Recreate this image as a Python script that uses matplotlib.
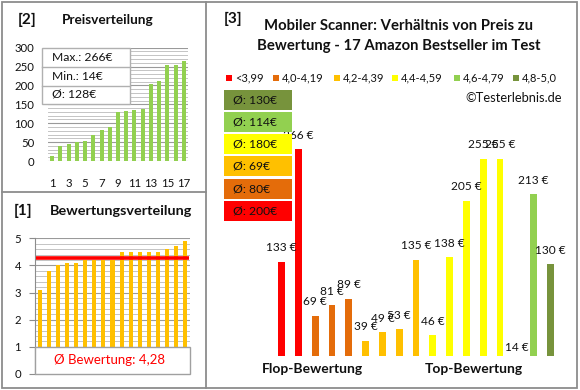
import matplotlib
matplotlib.use("Agg")
import matplotlib.pyplot as plt
from matplotlib.patches import Rectangle
import matplotlib.transforms as mtrans

plt.rcParams['font.family'] = ['Lato', 'DejaVu Sans']

# ---------------- data ----------------
prices_sorted = [14, 39, 46, 49, 53, 69, 81, 89, 130, 133, 135, 138, 205, 213, 255, 255, 266]
ratings_sorted = [3.1, 3.8, 4.0, 4.1, 4.1, 4.2, 4.2, 4.2, 4.2, 4.5, 4.5, 4.5, 4.5, 4.5, 4.6, 4.7, 4.9]
mean_rating_label = "4,28"
mean_rating_value = 4.28

# products ordered by rating (right chart)
product_prices = [133, 266, 69, 81, 89, 39, 49, 53, 135, 46, 138, 205, 255, 255, 14, 213, 130]
product_class = [0, 0, 1, 1, 1, 2, 2, 2, 2, 3, 3, 3, 3, 3, 4, 4, 5]
class_labels = ["<3,99", "4,0-4,19", "4,2-4,39", "4,4-4,59", "4,6-4,79", "4,8-5,0"]
class_colors = ["#FF0000", "#E46C0A", "#FFC000", "#FFFF00", "#92D050", "#77933C"]

W, H = 580, 390
fig = plt.figure(figsize=(W / 100, H / 100), dpi=100)
fig.patch.set_facecolor("white")


def ax_px(left, top, right, bottom, **kw):
    return fig.add_axes([left / W, 1 - bottom / H, (right - left) / W, (bottom - top) / H], **kw)


txt_col = "#111111"
grid_major = "#9A9A9A"
grid_minor = "#C4C4C4"

# ---------------- [2] Preisverteilung ----------------
ax1 = ax_px(48, 47.7, 188, 161)
x1 = list(range(1, len(prices_sorted) + 1))
ax1.bar(x1, prices_sorted, width=0.48, color="#92D050", zorder=3)
ax1.set_xlim(0.5, len(prices_sorted) + 0.5)
ax1.set_ylim(0, 300)
ax1.set_yticks(range(0, 301, 50))
ax1.set_yticks(range(0, 301, 10), minor=True)
ax1.set_xticks(range(1, 18, 2))
ax1.grid(axis="y", which="major", color=grid_major, lw=0.8, zorder=0)
ax1.grid(axis="y", which="minor", color=grid_minor, lw=0.7, zorder=0)
ax1.tick_params(axis="y", which="both", length=0, pad=10, labelsize=8.2, labelcolor=txt_col)
ax1.tick_params(axis="x", length=0, pad=12, labelsize=8.2, labelcolor=txt_col)
for s in ax1.spines.values():
    s.set_visible(False)
ax1.set_facecolor("none")

# ---------------- [1] Bewertungsverteilung ----------------
ax2 = ax_px(35, 238.3, 190, 374)
x2 = list(range(1, len(ratings_sorted) + 1))
ax2.bar(x2, ratings_sorted, width=0.45, color="#FFC000", zorder=3)
ax2.set_xlim(0.5, len(ratings_sorted) + 0.5)
ax2.set_ylim(0, 5)
ax2.set_yticks(range(0, 6))
ax2.set_yticks([i / 5 for i in range(0, 26)], minor=True)
ax2.grid(axis="y", which="major", color=grid_major, lw=0.8, zorder=0)
ax2.grid(axis="y", which="minor", color=grid_minor, lw=0.7, zorder=0)
ax2.set_xticks([])
ax2.tick_params(axis="y", which="major", length=4, color="#8C8C8C", pad=6, labelsize=8.2, labelcolor=txt_col)
ax2.tick_params(axis="y", which="minor", length=0)
for k, s in ax2.spines.items():
    s.set_visible(k == "left")
ax2.spines["left"].set_color("#8C8C8C")
ax2.plot([0.6, len(ratings_sorted) + 0.4], [mean_rating_value] * 2, color="#FF0000", lw=2.6, zorder=4,
         solid_capstyle="butt")
trans2 = mtrans.blended_transform_factory(ax2.transAxes, ax2.transData)
ax2.add_patch(Rectangle((0, 0), 1, 1, transform=trans2, facecolor="white", edgecolor="#A0A0A0",
                        lw=1.0, zorder=5, clip_on=False))
ax2.text(0.48, 0.5, "Ø Bewertung: " + mean_rating_label, transform=trans2, ha="center", va="center",
         color="#FF0000", fontsize=9.5, zorder=6)
ax2.set_facecolor("none")

# ---------------- [3] main chart ----------------
ax3 = ax_px(273.3, 120.6, 558.7, 356)
x3 = list(range(len(product_prices)))
ymin3 = 21
cols3 = [class_colors[c] for c in product_class]
ax3.bar(x3, product_prices, width=0.4, color=cols3, zorder=3)
ax3.set_xlim(-0.5, len(product_prices) - 0.5)
ax3.set_ylim(ymin3, 300)
ax3.axis("off")
for xi, v in zip(x3, product_prices):
    yv = max(v, ymin3)
    off = 10 if v >= ymin3 else 6
    ax3.annotate(f"{v} €", (xi, yv), xytext=(0, off), textcoords="offset points",
                 ha="center", va="center", fontsize=8.6, color=txt_col, annotation_clip=False)

# ---------------- overlay (pixel coordinates) ----------------
ov = fig.add_axes([0, 0, 1, 1], zorder=10)
ov.set_xlim(0, W)
ov.set_ylim(H, 0)
ov.axis("off")

border = "#8C8C8C"
ov.add_patch(Rectangle((1.7, 1.7), 575.6, 386.0, fill=False, edgecolor=border, lw=1.3))
ov.plot([205.5, 205.5], [1.7, 387.7], color=border, lw=1.3)
ov.plot([1.7, 205.5], [192, 192], color=border, lw=1.3)

# panel titles
ov.text(27, 20, "[2]", ha="center", va="center", fontsize=11, fontweight="bold", color=txt_col)
ov.text(108, 20, "Preisverteilung", ha="center", va="center", fontsize=9.8, fontweight="bold", color=txt_col)
ov.text(23, 211, "[1]", ha="center", va="center", fontsize=11, fontweight="bold", color=txt_col)
ov.text(121, 211, "Bewertungsverteilung", ha="center", va="center", fontsize=10.4, fontweight="bold",
        color=txt_col)
ov.text(233, 19, "[3]", ha="center", va="center", fontsize=11, fontweight="bold", color=txt_col)
ov.text(398, 25.7, "Mobiler Scanner: Verhältnis von Preis zu", ha="center", va="center", fontsize=10.7,
        fontweight="bold", color=txt_col)
ov.text(399, 45.7, "Bewertung - 17 Amazon Bestseller im Test", ha="center", va="center", fontsize=10.7,
        fontweight="bold", color=txt_col)
ov.text(562, 97.7, "©Testerlebnis.de", ha="right", va="center", fontsize=9.3, color=txt_col)

# price stats box
pmax = max(prices_sorted)
pmin = min(prices_sorted)
pmean = int(sum(prices_sorted) / len(prices_sorted) + 0.5)
ov.add_patch(Rectangle((42, 48), 88, 56, facecolor="white", edgecolor="#B0B0B0", lw=1.0))
ov.plot([42, 130], [67, 67], color="#B0B0B0", lw=1.0)
ov.plot([42, 130], [85.5, 85.5], color="#B0B0B0", lw=1.0)
for yy, s in zip([57.5, 76, 94.5], [f"Max.: {pmax}€", f"Min.: {pmin}€", f"Ø: {pmean}€"]):
    ov.text(52, yy, s, ha="left", va="center", fontsize=8.7, color=txt_col)

# legend row
leg_x = [226, 273, 334, 392, 454, 513]
for lx, lab, c in zip(leg_x, class_labels, class_colors):
    ov.add_patch(Rectangle((lx, 74.5), 6, 6, facecolor=c, edgecolor="none"))
    ov.text(lx + 9, 77.5, lab, ha="left", va="center", fontsize=8, color=txt_col)

# class means boxes (top: best class)
means = []
for ci in range(len(class_labels)):
    vals = [p for p, c in zip(product_prices, product_class) if c == ci]
    means.append(int(sum(vals) / len(vals) + 0.5))
for row, ci in enumerate(reversed(range(len(class_labels)))):
    y0 = 89.5 + row * 22.3
    ov.add_patch(Rectangle((223.5, y0), 68, 20, facecolor=class_colors[ci], edgecolor="none"))
    ov.text(233, y0 + 10, f"Ø: {means[ci]}€", ha="left", va="center", fontsize=8.7, color=txt_col)

# group labels
ov.text(312, 369, "Flop-Bewertung", ha="center", va="center", fontsize=10, fontweight="bold", color=txt_col)
ov.text(474, 369, "Top-Bewertung", ha="center", va="center", fontsize=10, fontweight="bold", color=txt_col)

fig.savefig("out.png", dpi=100, facecolor="white")
